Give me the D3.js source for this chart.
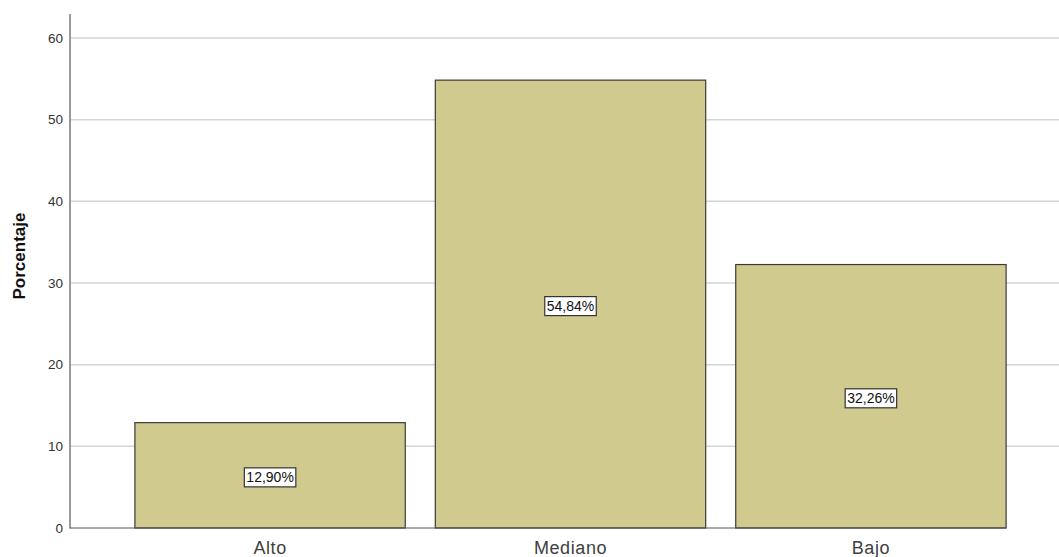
<!DOCTYPE html>
<html>
<head>
<meta charset="utf-8">
<title>Porcentaje</title>
<script src="https://cdn.jsdelivr.net/npm/d3@7"></script>
<style>
  body { margin: 0; background: #fff; font-family: Arial, "Liberation Sans", sans-serif; }
</style>
</head>
<body>
<div id="chart"></div>
<script>
// data
var categories = ["Alto", "Mediano", "Bajo"];
var values = [12.90, 54.84, 32.26];
var labels = ["12,90%", "54,84%", "32,26%"];
var yTicks = [0, 10, 20, 30, 40, 50, 60];

var w = 1059, h = 557;

var svg = d3.select("#chart").append("svg")
    .attr("width", w)
    .attr("height", h);

var x = d3.scaleBand()
    .domain(categories)
    .range([70, 1071])
    .paddingInner(0.1)
    .paddingOuter(0.216);

var y = d3.scaleLinear()
    .domain([0, 60])
    .range([528, 38]);

// gridlines
svg.append("g").selectAll("line")
    .data(yTicks.filter(function(d) { return d > 0; }))
    .enter().append("line")
    .attr("x1", 71).attr("x2", w)
    .attr("y1", function(d) { return y(d); })
    .attr("y2", function(d) { return y(d); })
    .style("stroke", "#d4d4d4")
    .style("stroke-width", 1.5);

// bars
svg.append("g").selectAll("rect")
    .data(values)
    .enter().append("rect")
    .attr("x", function(d, i) { return x(categories[i]); })
    .attr("y", function(d) { return y(d); })
    .attr("width", x.bandwidth())
    .attr("height", function(d) { return y(0) - y(d); })
    .style("fill", "#d0ca8e")
    .style("stroke", "#3a3a3a")
    .style("stroke-width", 1.2);

// y axis
var yAxis = svg.append("g")
    .attr("transform", "translate(70,0)")
    .call(d3.axisLeft(y).tickValues(yTicks).tickSize(0).tickPadding(7));
yAxis.select(".domain").remove();
yAxis.selectAll("text")
    .style("font-family", "Arial, 'Liberation Sans', sans-serif")
    .style("font-size", "13.5px")
    .style("fill", "#333");

svg.append("line")
    .attr("x1", 70).attr("x2", 70)
    .attr("y1", 14).attr("y2", y(0) + 0.5)
    .style("stroke", "#9a9a9a")
    .style("stroke-width", 2);

svg.append("line")
    .attr("x1", 70).attr("x2", x(categories[2]) + x.bandwidth())
    .attr("y1", y(0)).attr("y2", y(0))
    .style("stroke", "#555")
    .style("stroke-width", 1);

// x axis labels
var xAxis = svg.append("g")
    .attr("transform", "translate(0," + y(0) + ")")
    .call(d3.axisBottom(x).tickSize(0).tickPadding(0));
xAxis.select(".domain").remove();
xAxis.selectAll("text")
    .attr("y", 26)
    .attr("dy", 0)
    .style("font-family", "Arial, 'Liberation Sans', sans-serif")
    .style("font-size", "18px")
    .style("letter-spacing", "0.6px")
    .style("fill", "#404040");

// y title
svg.append("text")
    .attr("transform", "translate(25,256) rotate(-90)")
    .attr("text-anchor", "middle")
    .style("font-family", "Arial, 'Liberation Sans', sans-serif")
    .style("font-size", "17px")
    .style("font-weight", "bold")
    .style("fill", "#111")
    .text("Porcentaje");

// value labels
var lab = svg.append("g").selectAll("g")
    .data(values)
    .enter().append("g")
    .attr("transform", function(d, i) {
        return "translate(" + (x(categories[i]) + x.bandwidth() / 2) + "," + (y(d / 2) + 1.5) + ")";
    });

lab.append("text")
    .attr("text-anchor", "middle")
    .attr("dy", "0.36em")
    .style("font-family", "Arial, 'Liberation Sans', sans-serif")
    .style("font-size", "14px")
    .style("fill", "#111")
    .text(function(d, i) { return labels[i]; });

lab.each(function() {
    var g = d3.select(this);
    var bb = g.select("text").node().getBBox();
    g.insert("rect", "text")
        .attr("x", bb.x - 2)
        .attr("y", bb.y - 1)
        .attr("width", bb.width + 4)
        .attr("height", bb.height + 3)
        .style("fill", "#fff")
        .style("stroke", "#333")
        .style("stroke-width", 1.2);
});
</script>
</body>
</html>
